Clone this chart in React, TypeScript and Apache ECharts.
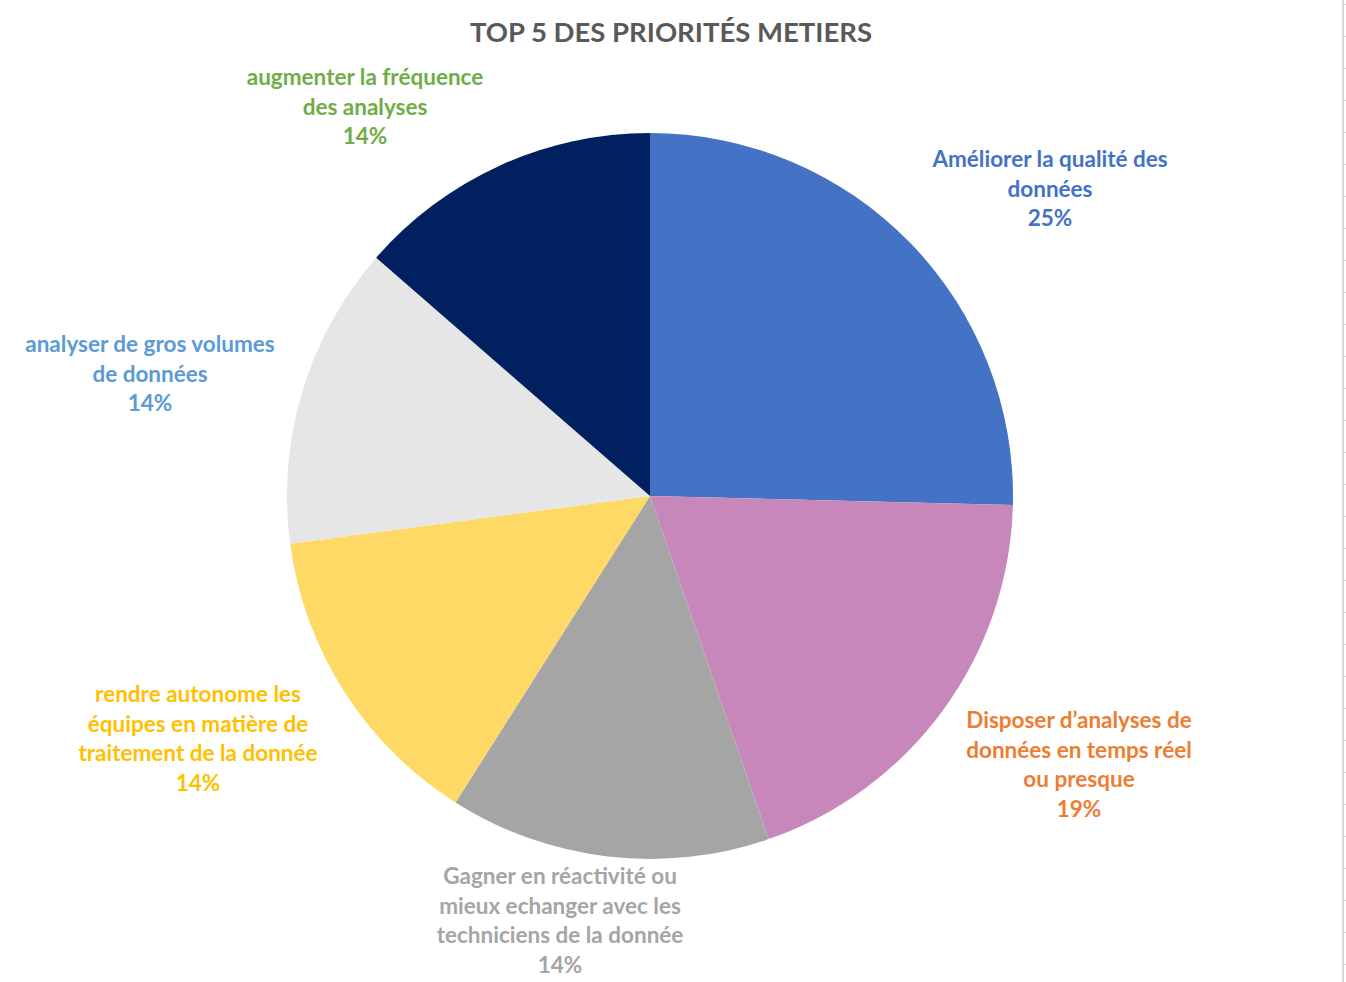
import React, { useEffect, useRef } from "react";
import * as echarts from "echarts";

const title = "TOP 5 DES PRIORITÉS METIERS";
const categories = [
  "Améliorer la qualité des\ndonnées",
  "Disposer d’analyses de\ndonnées en temps réel\nou presque",
  "Gagner en réactivité ou\nmieux echanger avec les\ntechniciens de la donnée",
  "rendre autonome les\néquipes en matière de\ntraitement de la donnée",
  "analyser de gros volumes\nde données",
  "augmenter la fréquence\ndes analyses",
];
const values = [25.4, 19.3, 14.3, 13.9, 13.5, 13.6];

const sliceColors = ["#4472C4", "#C787BA", "#A5A5A5", "#FFD966", "#E7E6E6", "#002060"];
const labelColors = ["#4472C4", "#ED7D31", "#A5A5A5", "#FFC000", "#5B9BD5", "#70AD47"];
const labelPos: [number, number][] = [
  [1050, 188],
  [1079, 764],
  [560, 920],
  [198, 738],
  [150, 373],
  [365, 106],
];

const FONT = "Lato, 'Open Sans', sans-serif";

export default function App() {
  const ref = useRef<HTMLDivElement>(null);
  useEffect(() => {
    if (!ref.current) return;
    const chart = echarts.init(ref.current, undefined, { renderer: "svg" });
    const ticks: any[] = [];
    for (let y = 4.5; y < 982; y += 32) {
      ticks.push({
        type: "line",
        shape: { x1: 1344, y1: y, x2: 1346, y2: y },
        style: { stroke: "#D9D9D9", lineWidth: 1 },
        silent: true,
      });
    }
    chart.setOption({
      animation: false,
      backgroundColor: "#FFFFFF",
      title: {
        text: title,
        left: 666,
        top: 12,
        textAlign: "center",
        textStyle: { fontFamily: FONT, fontWeight: "bold", fontSize: 27.5, color: "#595959" },
      },
      graphic: [
        {
          type: "line",
          shape: { x1: 1343, y1: 0, x2: 1343, y2: 982 },
          style: { stroke: "#D9D9D9", lineWidth: 2 },
          silent: true,
        },
        ...ticks,
      ],
      series: [
        {
          type: "pie",
          center: [650, 496],
          radius: [0, 363],
          startAngle: 90,
          clockwise: true,
          silent: true,
          avoidLabelOverlap: false,
          data: values.map((v, i) => ({
            name: categories[i],
            value: v,
            itemStyle: { color: sliceColors[i] },
            label: { color: labelColors[i] },
          })),
          itemStyle: { borderWidth: 0 },
          labelLine: { show: false },
          label: {
            show: true,
            position: "outside",
            overflow: "none",
            width: 400,
            fontFamily: FONT,
            fontWeight: "bold",
            fontSize: 22.5,
            lineHeight: 29.5,
            align: "center",
            formatter: (p: any) => `${p.name}\n${Math.round(p.percent)}%`,
          },
          labelLayout: (p: any) => ({
            x: labelPos[p.dataIndex][0],
            y: labelPos[p.dataIndex][1],
            align: "center",
            verticalAlign: "middle",
          }),
        },
      ],
    });
    return () => chart.dispose();
  }, []);
  return (
    <div
      ref={ref}
      style={{ position: "fixed", left: 0, top: 0, width: 1346, height: 982 }}
    />
  );
}
